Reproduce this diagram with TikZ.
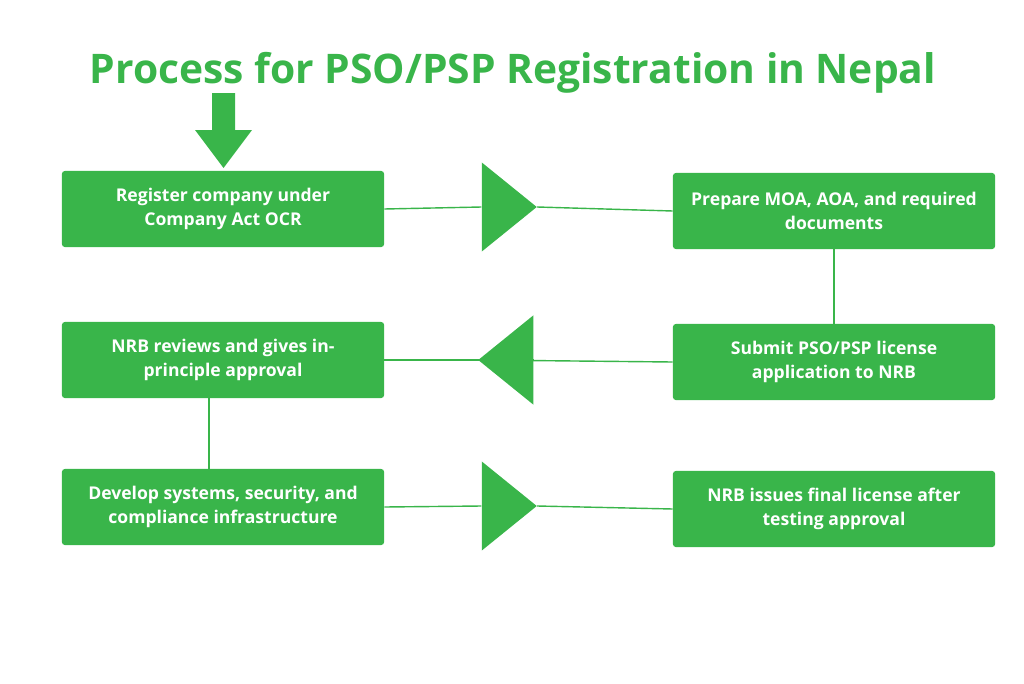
\documentclass[tikz,border=0pt]{standalone}
\usepackage{fontspec}
\setmainfont{Open Sans}
\usetikzlibrary{shapes.geometric}
\definecolor{pgreen}{RGB}{57,181,74}
\begin{document}
\begin{tikzpicture}[x=.025cm,y=-.025cm,font=\bfseries,
  stepbox/.style={rectangle,rounded corners=2pt,fill=pgreen,text=white,minimum width=8.05cm,minimum height=1.9cm,align=center,font=\fontsize{12.5}{17}\selectfont\bfseries},
  tri/.style={isosceles triangle,isosceles triangle apex angle=78,fill=pgreen,minimum height=1.375cm,inner sep=0pt},
  link/.style={pgreen,line width=1pt}]
  \useasboundingbox (0,0) rectangle (1024,683);

  % title and start arrow
  \node[text=pgreen,font=\fontsize{29}{34}\selectfont\bfseries] (title) at (513,73) {Process for PSO/PSP Registration in Nepal};
  \fill[pgreen] (212,93) -- (235,93) -- (235,130) -- (252,130) -- (223.5,168) -- (195,130) -- (212,130) -- cycle;

  % steps
  \node[stepbox] (reg)  at (223,209) {Register company under\\Company Act OCR};
  \node[stepbox] (moa)  at (834,211) {Prepare MOA, AOA, and required\\documents};
  \node[stepbox] (sub)  at (834,362) {Submit PSO/PSP license\\application to NRB};
  \node[stepbox] (nrb)  at (223,360) {NRB reviews and gives in-\\principle approval};
  \node[stepbox] (dev)  at (223,507) {Develop systems, security, and\\compliance infrastructure};
  \node[stepbox] (fin)  at (834,509) {NRB issues final license after\\testing approval};

  % triangles
  \node[tri] (t1) at (503,207) {};
  \node[tri,shape border rotate=180] (t2) at (512,360) {};
  \node[tri] (t3) at (503,506) {};

  % connectors
  \draw[link] (reg.east) -- (t1.west);
  \draw[link] (t1.apex) -- (moa.west);
  \draw[link] (moa.south) -- (sub.north);
  \draw[link] (sub.west) -- (t2.apex);
  \draw[link] (t2.east) -- (nrb.east);
  \draw[link] (nrb.south -| 209,0) -- (dev.north -| 209,0);
  \draw[link] (dev.east) -- (t3.west);
  \draw[link] (t3.apex) -- (fin.west);
\end{tikzpicture}
\end{document}
